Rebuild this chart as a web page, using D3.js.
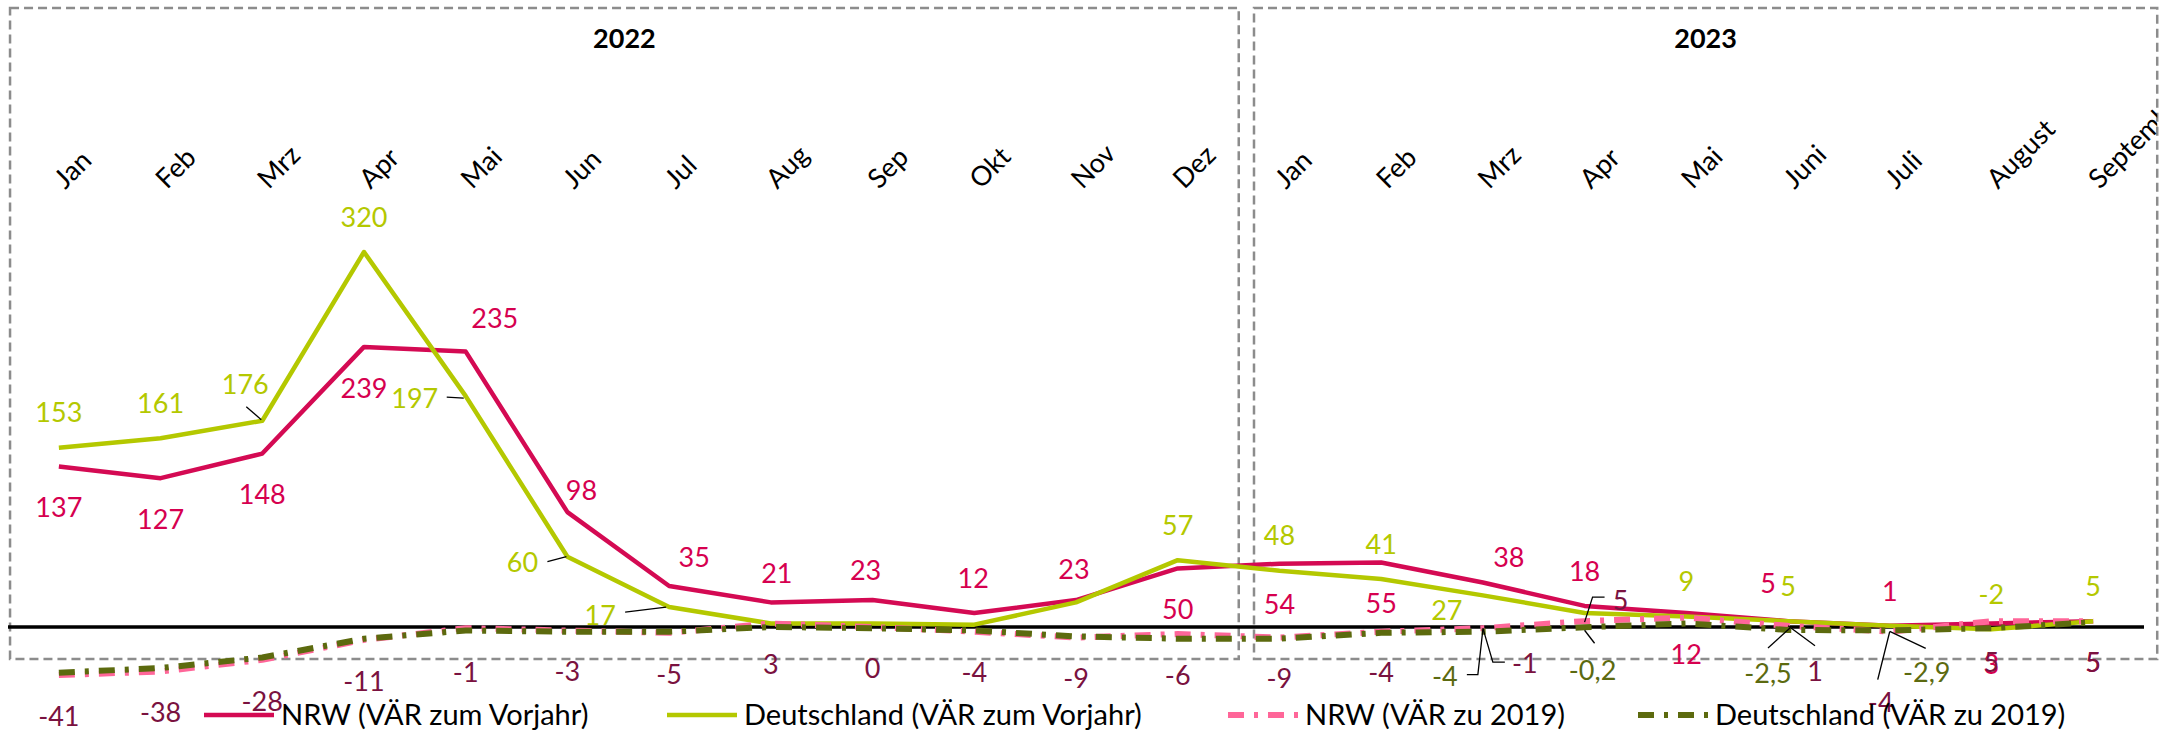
<!DOCTYPE html>
<html>
<head>
<meta charset="utf-8">
<script src="https://cdn.jsdelivr.net/npm/d3@7/dist/d3.min.js"></script>
<style>
  body { margin: 0; background: #fff; }
  svg { display: block; font-family: Lato, "Open Sans", sans-serif; }
</style>
</head>
<body>
<svg id="chart" width="2161" height="731"></svg>
<script>
// months over two years (12 in 2022, 9 in 2023)
const months = ['Jan', 'Feb', 'Mrz', 'Apr', 'Mai', 'Jun', 'Jul', 'Aug', 'Sep', 'Okt', 'Nov', 'Dez',
  'Jan', 'Feb', 'Mrz', 'Apr', 'Mai', 'Juni', 'Juli', 'August', 'September'];
const years = ['2022', '2023'];
const monthsPerYear = [12, 9];

// change rates in percent
const nrwVorjahr = [137, 127, 148, 239, 235, 98, 35, 21, 23, 12, 23, 50, 54, 55, 38, 18, 12, 5, 1, 3, 5];
const deVorjahr = [153, 161, 176, 320, 197, 60, 17, 3, 3, 2, 21, 57, 48, 41, 27, 12, 9, 5, 1, -2, 5];
const nrw2019 = [-41, -38, -28, -11, -1, -3, -5, 3, 0, -4, -9, -6, -9, -4, -1, 5, 8, 1, -4, 5, 5];
const de2019 = [-39, -35, -26, -10, -3, -4, -4, 0, -1, -3, -8, -10, -10, -5, -4, -0.2, 3, -2.5, -2.9, -1, 4];

const seriesNames = ['NRW (VÄR zum Vorjahr)', 'Deutschland (VÄR zum Vorjahr)', 'NRW (VÄR zu 2019)', 'Deutschland (VÄR zu 2019)'];

// label placement: 'a' above, 'b' below, [dx, dy] custom, null hidden
const labelPos = [
  ['b', 'b', 'b', 'b', [29, -33], [14, -22], [25, -29], [6, -29], [-7, -30], [-1, -35], [-2, -31],
    'b', 'b', 'b', [26, -25], 'a', 'b', [-20, -38], 'a', 'b', 'b'],
  ['a', 'a', [-17, -36], 'a', [-51, 2], [-45, 6], [-69, 8], null, null, null, null,
    'a', 'a', 'a', [-36, 15], null, 'a', 'a', null, 'a', 'a'],
  ['b', 'b', 'b', 'b', [0, 44], 'b', 'b', 'b', 'b', 'b', 'b', 'b', 'b', 'b',
    [42, 35], [36, -21], null, [27, 45], [-9, 71], 'b', 'b'],
  [null, null, null, null, null, null, null, null, null, null, null, null, null, null,
    [-38, 45], [8, 43], null, [-20, 43], [37, 42], null, null]
];
// leader lines, points relative to the data point
const leaders = [
  {},
  { 2: [[-16, -14], [-1, -1]], 4: [[-19, 1], [-2, 2]], 5: [[-20, 5], [-1, 0]], 6: [[-44, 5], [-3, 0]] },
  { 14: [[0, 0], [10, 34], [22, 34]], 15: [[0, 1], [8, -24], [20, -24]], 17: [[0, 0], [27, 20]], 18: [[0, 0], [-12, 48]] },
  { 14: [[0, -2], [-5, 43], [-16, 43]], 15: [[0, 3], [10, 16]], 17: [[2, -2], [-20, 18]], 18: [[0, 1], [36, 18]] }
];

const style = {
  width: 2161,
  height: 731,
  left: 8,
  right: 2144,
  zeroY: 627,
  topY: 252,
  lineColor: ['#d40a53', '#b4c800', '#ff6699', '#5c6a0e'],
  labelColor: ['#d6004f', '#b4c800', '#7a1240', '#5c6a10'],
  dash: [null, null, '16,10,4,10', '16,10,4,10'],
  strokeWidth: [4.5, 4.5, 6, 6],
  font: 27,
  monthY: 190
};

const svg = d3.select('#chart');
const data = [nrwVorjahr, deVorjahr, nrw2019, de2019];

const x = d3.scalePoint()
  .domain(d3.range(months.length))
  .range([style.left, style.right])
  .padding(0.5);
const step = x.step();

const y = d3.scaleLinear()
  .domain([0, 320])
  .range([style.zeroY, style.topY]);

const fmt = d3.formatLocale({ decimal: ',', thousands: '.', grouping: [3], currency: ['', '€'], minus: '-' }).format('~g');

// panel boxes for each year
let start = 0;
const boxes = years.map((yr, k) => {
  const first = start, last = start + monthsPerYear[k] - 1;
  start += monthsPerYear[k];
  return {
    year: yr,
    x0: x(first) - step * (k === 0 ? 0.48 : 0.25),
    x1: x(last) + step * (k === 0 ? 0.6 : 0.63)
  };
});

svg.append('g')
  .selectAll('rect')
  .data(boxes)
  .join('rect')
  .attr('x', (d) => d.x0)
  .attr('y', 8)
  .attr('width', (d) => d.x1 - d.x0)
  .attr('height', 651)
  .attr('fill', 'none')
  .attr('stroke', '#8c8c8c')
  .attr('stroke-width', 2.5)
  .attr('stroke-dasharray', '9,5');

svg.append('g')
  .selectAll('text')
  .data(boxes)
  .join('text')
  .attr('x', (d) => (d.x0 + d.x1) / 2)
  .attr('y', 48)
  .attr('text-anchor', 'middle')
  .attr('font-weight', 700)
  .attr('font-size', 27)
  .text((d) => d.year);

// month labels, clipped at the right panel border
svg.append('clipPath')
  .attr('id', 'clip-months')
  .append('rect')
  .attr('x', 0)
  .attr('y', 0)
  .attr('width', boxes[1].x1)
  .attr('height', style.height);

svg.append('g')
  .attr('clip-path', 'url(#clip-months)')
  .append('g')
  .attr('transform', `translate(0,${style.monthY})`)
  .call(d3.axisTop(x).tickSize(0).tickPadding(0).tickFormat((i) => months[i]))
  .call((g) => g.select('.domain').remove())
  .call((g) => g.attr('font-family', null).attr('font-size', style.font))
  .call((g) =>
    g.selectAll('text')
      .attr('fill', '#000')
      .attr('text-anchor', 'start')
      .attr('dy', null)
      .attr('transform', 'translate(6,0) rotate(-45)')
  );

// zero line
svg.append('line')
  .attr('x1', style.left)
  .attr('x2', style.right)
  .attr('y1', y(0))
  .attr('y2', y(0))
  .attr('stroke', '#000')
  .attr('stroke-width', 3.5);

const line = d3.line()
  .x((d, i) => x(i))
  .y((d) => y(d));

svg.append('g')
  .selectAll('path')
  .data(data)
  .join('path')
  .attr('d', line)
  .attr('fill', 'none')
  .attr('stroke', (d, k) => style.lineColor[k])
  .attr('stroke-width', (d, k) => style.strokeWidth[k])
  .attr('stroke-dasharray', (d, k) => style.dash[k])
  .attr('stroke-linejoin', 'round');

// leader lines
const leaderG = svg.append('g')
  .attr('fill', 'none')
  .attr('stroke', '#000')
  .attr('stroke-width', 1.3);
data.forEach((vals, k) => {
  Object.entries(leaders[k]).forEach(([i, pts]) => {
    const px = x(+i), py = y(vals[+i]);
    leaderG.append('path')
      .attr('d', d3.line()(pts.map(([dx, dy]) => [px + dx, py + dy])));
  });
});

// data labels
const labelOffset = (p) => (p === 'a' ? [0, -35] : p === 'b' ? [0, 41] : p);
const labelG = svg.append('g')
  .attr('font-size', style.font)
  .attr('text-anchor', 'middle');
[1, 0, 2, 3].forEach((k) => {
  const items = data[k]
    .map((v, i) => ({ v, i, p: labelPos[k][i] }))
    .filter((d) => d.p);
  labelG.append('g')
    .attr('fill', style.labelColor[k])
    .selectAll('text')
    .data(items)
    .join('text')
    .attr('x', (d) => x(d.i) + labelOffset(d.p)[0])
    .attr('y', (d) => y(d.v) + labelOffset(d.p)[1])
    .attr('dy', '0.36em')
    .text((d) => fmt(d.v));
});

// legend
const legendX = [204, 667, 1228, 1638];
const legend = svg.append('g')
  .selectAll('g')
  .data(seriesNames)
  .join('g')
  .attr('transform', (d, k) => `translate(${legendX[k]},715)`);

legend.append('line')
  .attr('x1', 0)
  .attr('x2', 70)
  .attr('stroke', (d, k) => style.lineColor[k])
  .attr('stroke-width', (d, k) => style.strokeWidth[k])
  .attr('stroke-dasharray', (d, k) => style.dash[k]);

legend.append('text')
  .attr('x', 77)
  .attr('y', 10)
  .attr('font-size', 29)
  .attr('fill', '#000')
  .text((d) => d);
</script>
</body>
</html>
